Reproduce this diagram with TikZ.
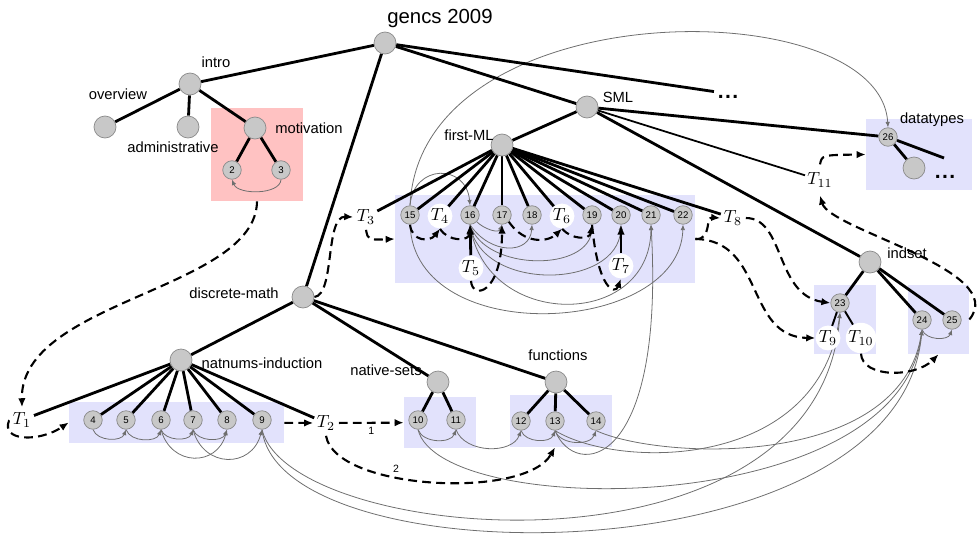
\documentclass[tikz,border=0pt]{standalone}
\usepackage{fontspec}
\setsansfont{Liberation Sans}
\usetikzlibrary{arrows.meta, positioning, fit, backgrounds, calc}
\definecolor{grpblue}{HTML}{E2E2FC}
\definecolor{grppink}{HTML}{FFC2C2}
\definecolor{nodefill}{HTML}{C8C8C8}
\definecolor{nodeline}{HTML}{8A8A8A}
\definecolor{linkgray}{HTML}{6E6E6E}
\tikzset{
  topic/.style={circle, draw=nodeline, fill=nodefill, minimum size=0.44cm, inner sep=0pt},
  frag/.style={circle, draw=nodeline, fill=nodefill, minimum size=0.37cm, inner sep=0pt,
               font=\sffamily\fontsize{5.5}{6}\selectfont},
  view/.style={circle, fill=white, inner sep=0.3pt, font=\fontsize{10}{12}\selectfont},
  lbl/.style={font=\sffamily\fontsize{8.4}{10}\selectfont, inner sep=1pt},
  numlbl/.style={font=\sffamily\fontsize{6}{7}\selectfont, inner sep=1pt},
  etc/.style={font=\sffamily\bfseries\fontsize{12}{12}\selectfont, inner sep=2pt},
  grp/.style={fill=grpblue, inner sep=0pt},
  tree/.style={line width=1.6pt},
  morph/.style={-{Latex[length=1.8mm,width=1.5mm]}, line width=1.2pt, dash pattern=on 5pt off 3pt},
  link/.style={-{Latex[length=1.1mm,width=0.9mm]}, draw=linkgray, line width=0.45pt},
}
\newcommand{\moredots}{.\hspace{0.8pt}.\hspace{0.8pt}.}

\begin{document}
\begin{tikzpicture}[x=0.02cm, y=-0.02cm]
  \useasboundingbox (0,0) rectangle (977,534);
  \foreach \n/\x/\y in {root/385/43, intro/190/84, ovw/105/127, adm/188/127, mot/255/128, sml/587/107,
      fml/502/145, ind/870/262, dtc/914/168, dsm/303/297, nat/181/360, nset/438/382, fun/556/382}
    \node[topic] (\n) at (\x,\y) {};
  \foreach \i/\x/\y in {2/232/170, 3/281/170, 4/93/420, 5/126/420, 6/161/420, 7/193/420, 8/227/420,
      9/262/420, 10/418/420, 11/456/420, 12/521/421, 13/555/421, 14/596/421, 15/410/215, 16/470/215,
      17/502/215, 18/532/215, 19/592/215, 20/621/215, 21/651/215, 22/683/215, 23/840/303,
      24/922/320, 25/952/320, 26/888/137}
    \node[frag] (n\i) at (\x,\y) {\i};
  \foreach \i/\x/\y in {1/22/420, 2/326/423, 3/366/217, 4/440/216, 5/471/268, 6/562/216, 7/621/266,
      8/733/218, 9/828/338, 10/861/338, 11/820/180}
    \node[view] (T\i) at (\x,\y) {$T_{\i}$};
  \foreach \t/\x/\y [count=\k] in {intro/216/62, overview/118/94, administrative/173/147,
      motivation/309/128, SML/618/97, first-ML/469/135, datatypes/932/120, indset/907/253,
      discrete-math/234/293, natnums-induction/262/363, native-sets/386/370, functions/558/355}
    \node[lbl] (lbl\k) at (\x,\y) {\t};
  \node[lbl, font=\sffamily\fontsize{11.6}{13}\selectfont] (title) at (440,18) {gencs 2009};
  \node[etc] (more) at (728,97) {\moredots};
  \node[etc] (dtmore) at (945,177) {\moredots};
  \coordinate (dtend) at (944,158);

  \begin{scope}[on background layer]
    \node[grp, fill=grppink, fit={(211,108) (303,201)}] (motbox) {};
    \node[grp, fit={(395,195) (695,283)}] (fmlbox) {};
    \node[grp, fit={(866,119) (972,190)}] (dtbox) {};
    \node[grp, fit={(814,285) (876,354)}] (b23) {};
    \node[grp, fit={(908,285) (969,354)}] (b2425) {};
    \node[grp, fit={(69,402) (284,443)}] (natbox) {};
    \node[grp, fit={(404,397) (476,448)}] (setbox) {};
    \node[grp, fit={(510,395) (612,447)}] (funbox) {};

    \draw[link] (n3.south) .. controls (280,195) and (238,195) .. (n2.south);
    \foreach \a/\b in {4/5,5/6,6/7,7/8,10/11,11/12,12/13,13/14,24/25}
      \draw[link] (n\a.south) to[out=-70,in=-110] (n\b.south);
    \foreach \a/\b in {6/8,7/9}
      \draw[link] (n\a.south) to[out=-75,in=-105,looseness=1.5] (n\b.south);
    \draw[link] (n15.north) to[out=85,in=95,looseness=1.8] (n16.north);
    \draw[link] (n16.south east) to[out=-45,in=-110] (n17.south);
    \draw[link] (n16.south) .. controls (490,255) and (530,255) .. (n18.south);
    \draw[link] (n16.south) .. controls (485,272) and (590,272) .. (n19.south);
    \draw[link] (n16.south) .. controls (480,292) and (618,290) .. (n20.south);
    \draw[link] (n16.south) .. controls (485,330) and (650,330) .. (n21.south);
    \draw[link] (n15.south) .. controls (415,350) and (680,335) .. (n22.south);
    \draw[link] (n13.south) .. controls (575,480) and (665,470) .. (n21.south);
    \draw[link] (n15.north) .. controls (420,-10) and (880,-10) .. (n26.north);
    \draw[link] (n9.south) .. controls (290,545) and (820,590) .. (n23.south);
    \draw[link] (n9.south) .. controls (280,580) and (900,580) .. (n24.south);
    \draw[link] (n10.south) .. controls (440,520) and (900,520) .. (n24.south);
    \draw[link] (n13.south) .. controls (620,470) and (820,470) .. (n23.south);
    \draw[link] (n14.south) .. controls (660,460) and (900,470) .. (n24.south);

    \draw[tree] (root) -- (intro);
    \draw[tree] (root) -- (dsm);
    \draw[tree] (root) -- (sml);
    \draw[tree] (root) -- (more.north west);
    \foreach \c in {ovw,adm,mot} \draw[tree] (intro) -- (\c);
    \foreach \c in {n2,n3} \draw[tree] (mot) -- (\c);
    \foreach \c in {fml,n26,ind} \draw[tree] (sml) -- (\c);
    \draw[tree, line width=1pt] (sml) -- (T11);
    \foreach \c in {T3,n15,T4,n16,n17,n18,T6,n19,n20,n21,n22,T8} \draw[tree] (fml) -- (\c);
    \foreach \c in {n23,n24,n25} \draw[tree] (ind) -- (\c);
    \foreach \c in {T9,T10} \draw[tree, line width=1.1pt] (n23) -- (\c);
    \draw[tree] (n26) -- (dtc);
    \draw[tree] (n26) -- (dtend);
    \foreach \c in {nat,nset,fun} \draw[tree] (dsm) -- (\c);
    \foreach \c in {T1,n4,n5,n6,n7,n8,n9,T2} \draw[tree] (nat) -- (\c);
    \foreach \c in {n10,n11} \draw[tree] (nset) -- (\c);
    \foreach \c in {n12,n13,n14} \draw[tree] (fun) -- (\c);
    \draw[tree, -{Latex[length=2mm]}] (T5) -- (n16);
    \draw[tree, -{Latex[length=2mm]}] (T7) -- (n20);

    \draw[morph] (motbox.south) .. controls (256,290) and (20,300) .. (T1.north);
    \draw[morph] (T1.west) .. controls (0,442) and (40,442) .. (natbox.west);
    \draw[morph] (natbox) -- (T2);
    \draw[morph] (T2) -- node[numlbl, below=1pt] {1} (setbox);
    \draw[morph] (T2.south) .. controls (335,490) and (525,500) .. node[numlbl, pos=0.38, above=1pt] {2} (funbox.south -| n13);
    \draw[morph] (dsm.east) .. controls (335,295) and (325,216) .. (T3.west);
    \draw[morph] (T3.south) .. controls (368,240) .. (fmlbox.west);
    \draw[morph] (n15.south) .. controls (412,242) and (430,242) .. (T4.south);
    \draw[morph] (T4.south) .. controls (448,242) and (470,242) .. (n16.south);
    \draw[morph] (T5.south) .. controls (472,300) and (502,295) .. (n17.south);
    \draw[morph] (n17.south east) .. controls (525,245) and (548,242) .. (T6.south);
    \draw[morph] (T6.south) .. controls (572,240) and (590,240) .. (n19.south);
    \draw[morph] (n19.south) .. controls (598,290) and (615,295) .. (T7.south);
    \draw[morph] (fmlbox.east) .. controls (712,240) and (705,217) .. (T8.west);
    \draw[morph] (T8.east) .. controls (785,218) and (775,295) .. (n23.west);
    \draw[morph] (fmlbox.east) .. controls (765,240) and (745,337) .. (T9.west);
    \draw[morph] (T10.south) .. controls (862,378) and (915,378) .. (b2425.south);
    \draw[morph] (b2425.east) .. controls (1010,270) and (830,230) .. (T11.south);
    \draw[morph] (T11.north) .. controls (822,155) .. (dtbox.west);
  \end{scope}
\end{tikzpicture}
\end{document}
